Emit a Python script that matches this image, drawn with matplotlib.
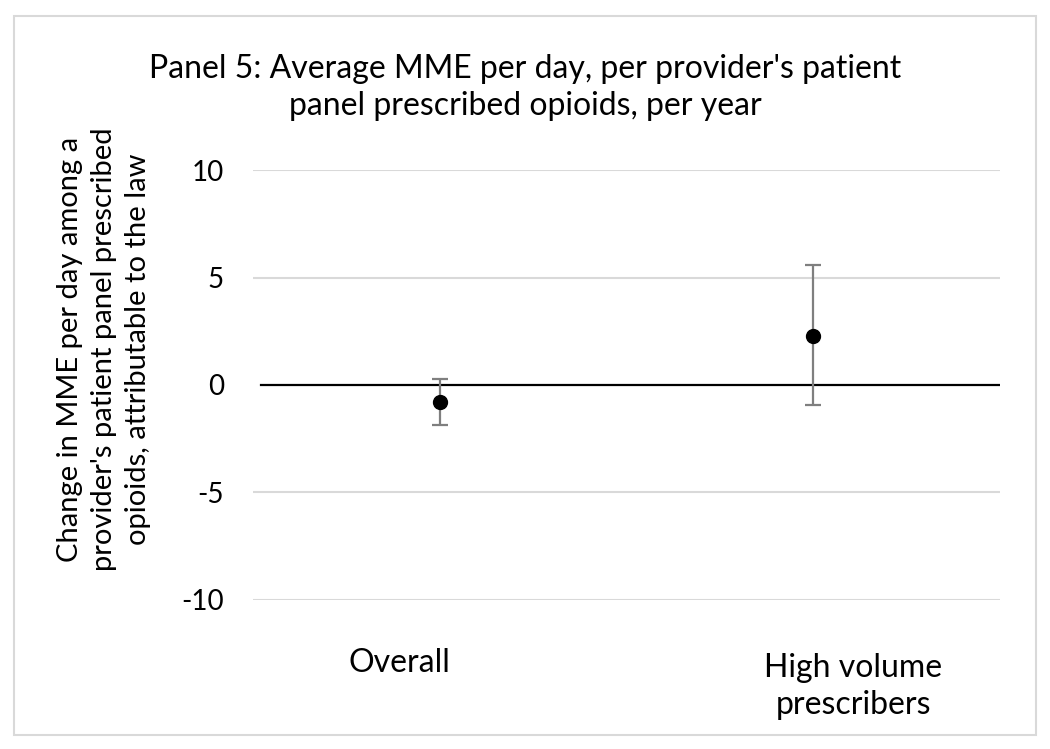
import matplotlib
matplotlib.use("Agg")
import matplotlib.pyplot as plt
from matplotlib.patches import Rectangle

plt.rcParams['font.family'] = ['Lato', 'DejaVu Sans']

# --- Data ---
categories = ["Overall", "High volume\nprescribers"]
estimates = [-0.8, 2.3]
ci_low = [-1.85, -0.95]
ci_high = [0.3, 5.6]
yticks = [-10, -5, 0, 5, 10]

title = "Panel 5: Average MME per day, per provider's patient\npanel prescribed opioids, per year"
ylabel = ("Change in MME per day among a\nprovider's patient panel prescribed\n"
          "opioids, attributable to the law")

fig = plt.figure(figsize=(10.5, 7.49), dpi=100)
ax = fig.add_axes([0.241, 0.199, 0.711, 0.574])

x = list(range(len(categories)))
yerr = [[e - lo for e, lo in zip(estimates, ci_low)],
        [hi - e for e, hi in zip(estimates, ci_high)]]

# gridlines and zero line
for v in yticks:
    if v != 0:
        ax.axhline(v, color='#d9d9d9', lw=1.5, zorder=0)
ax.axhline(0, color='black', lw=1.6, zorder=1, xmin=0.011)

ax.errorbar(x, estimates, yerr=yerr, fmt='o', color='black', markersize=10,
            ecolor='#7f7f7f', elinewidth=1.6, capsize=5.5, capthick=1.6, zorder=3)

ax.set_xlim(-0.5, 1.5)
ax.set_ylim(-10, 10)
ax.set_yticks(yticks)
ax.set_yticklabels([str(v) for v in yticks])
ax.set_xticks([])
ax.tick_params(axis='y', labelsize=20, length=0, pad=21)
for s in ax.spines.values():
    s.set_visible(False)

# category labels (offset sideways like the original); va='baseline' = last line
for xi, lab, dx in zip(x, categories, [-29, 29]):
    nlines = lab.count('\n')
    ax.annotate(lab, xy=(xi, 0), xycoords=('data', 'axes fraction'),
                xytext=(dx, -52 - 30 * nlines), textcoords='offset points',
                ha='center', va='baseline', fontsize=23, linespacing=1.3,
                multialignment='center')

fig.text(0.099, 0.534, ylabel, rotation=90, ha='center', va='center',
         fontsize=21, linespacing=1.4, multialignment='center')
fig.text(0.5, 1 - 115 / 749, title, ha='center', va='baseline', fontsize=23,
         linespacing=1.3, multialignment='center')

fig.patches.append(Rectangle((0.0135, 0.019), 0.973, 0.96, transform=fig.transFigure,
                             fill=False, edgecolor='#d9d9d9', lw=1.5))

fig.savefig("out.png", dpi=100)
